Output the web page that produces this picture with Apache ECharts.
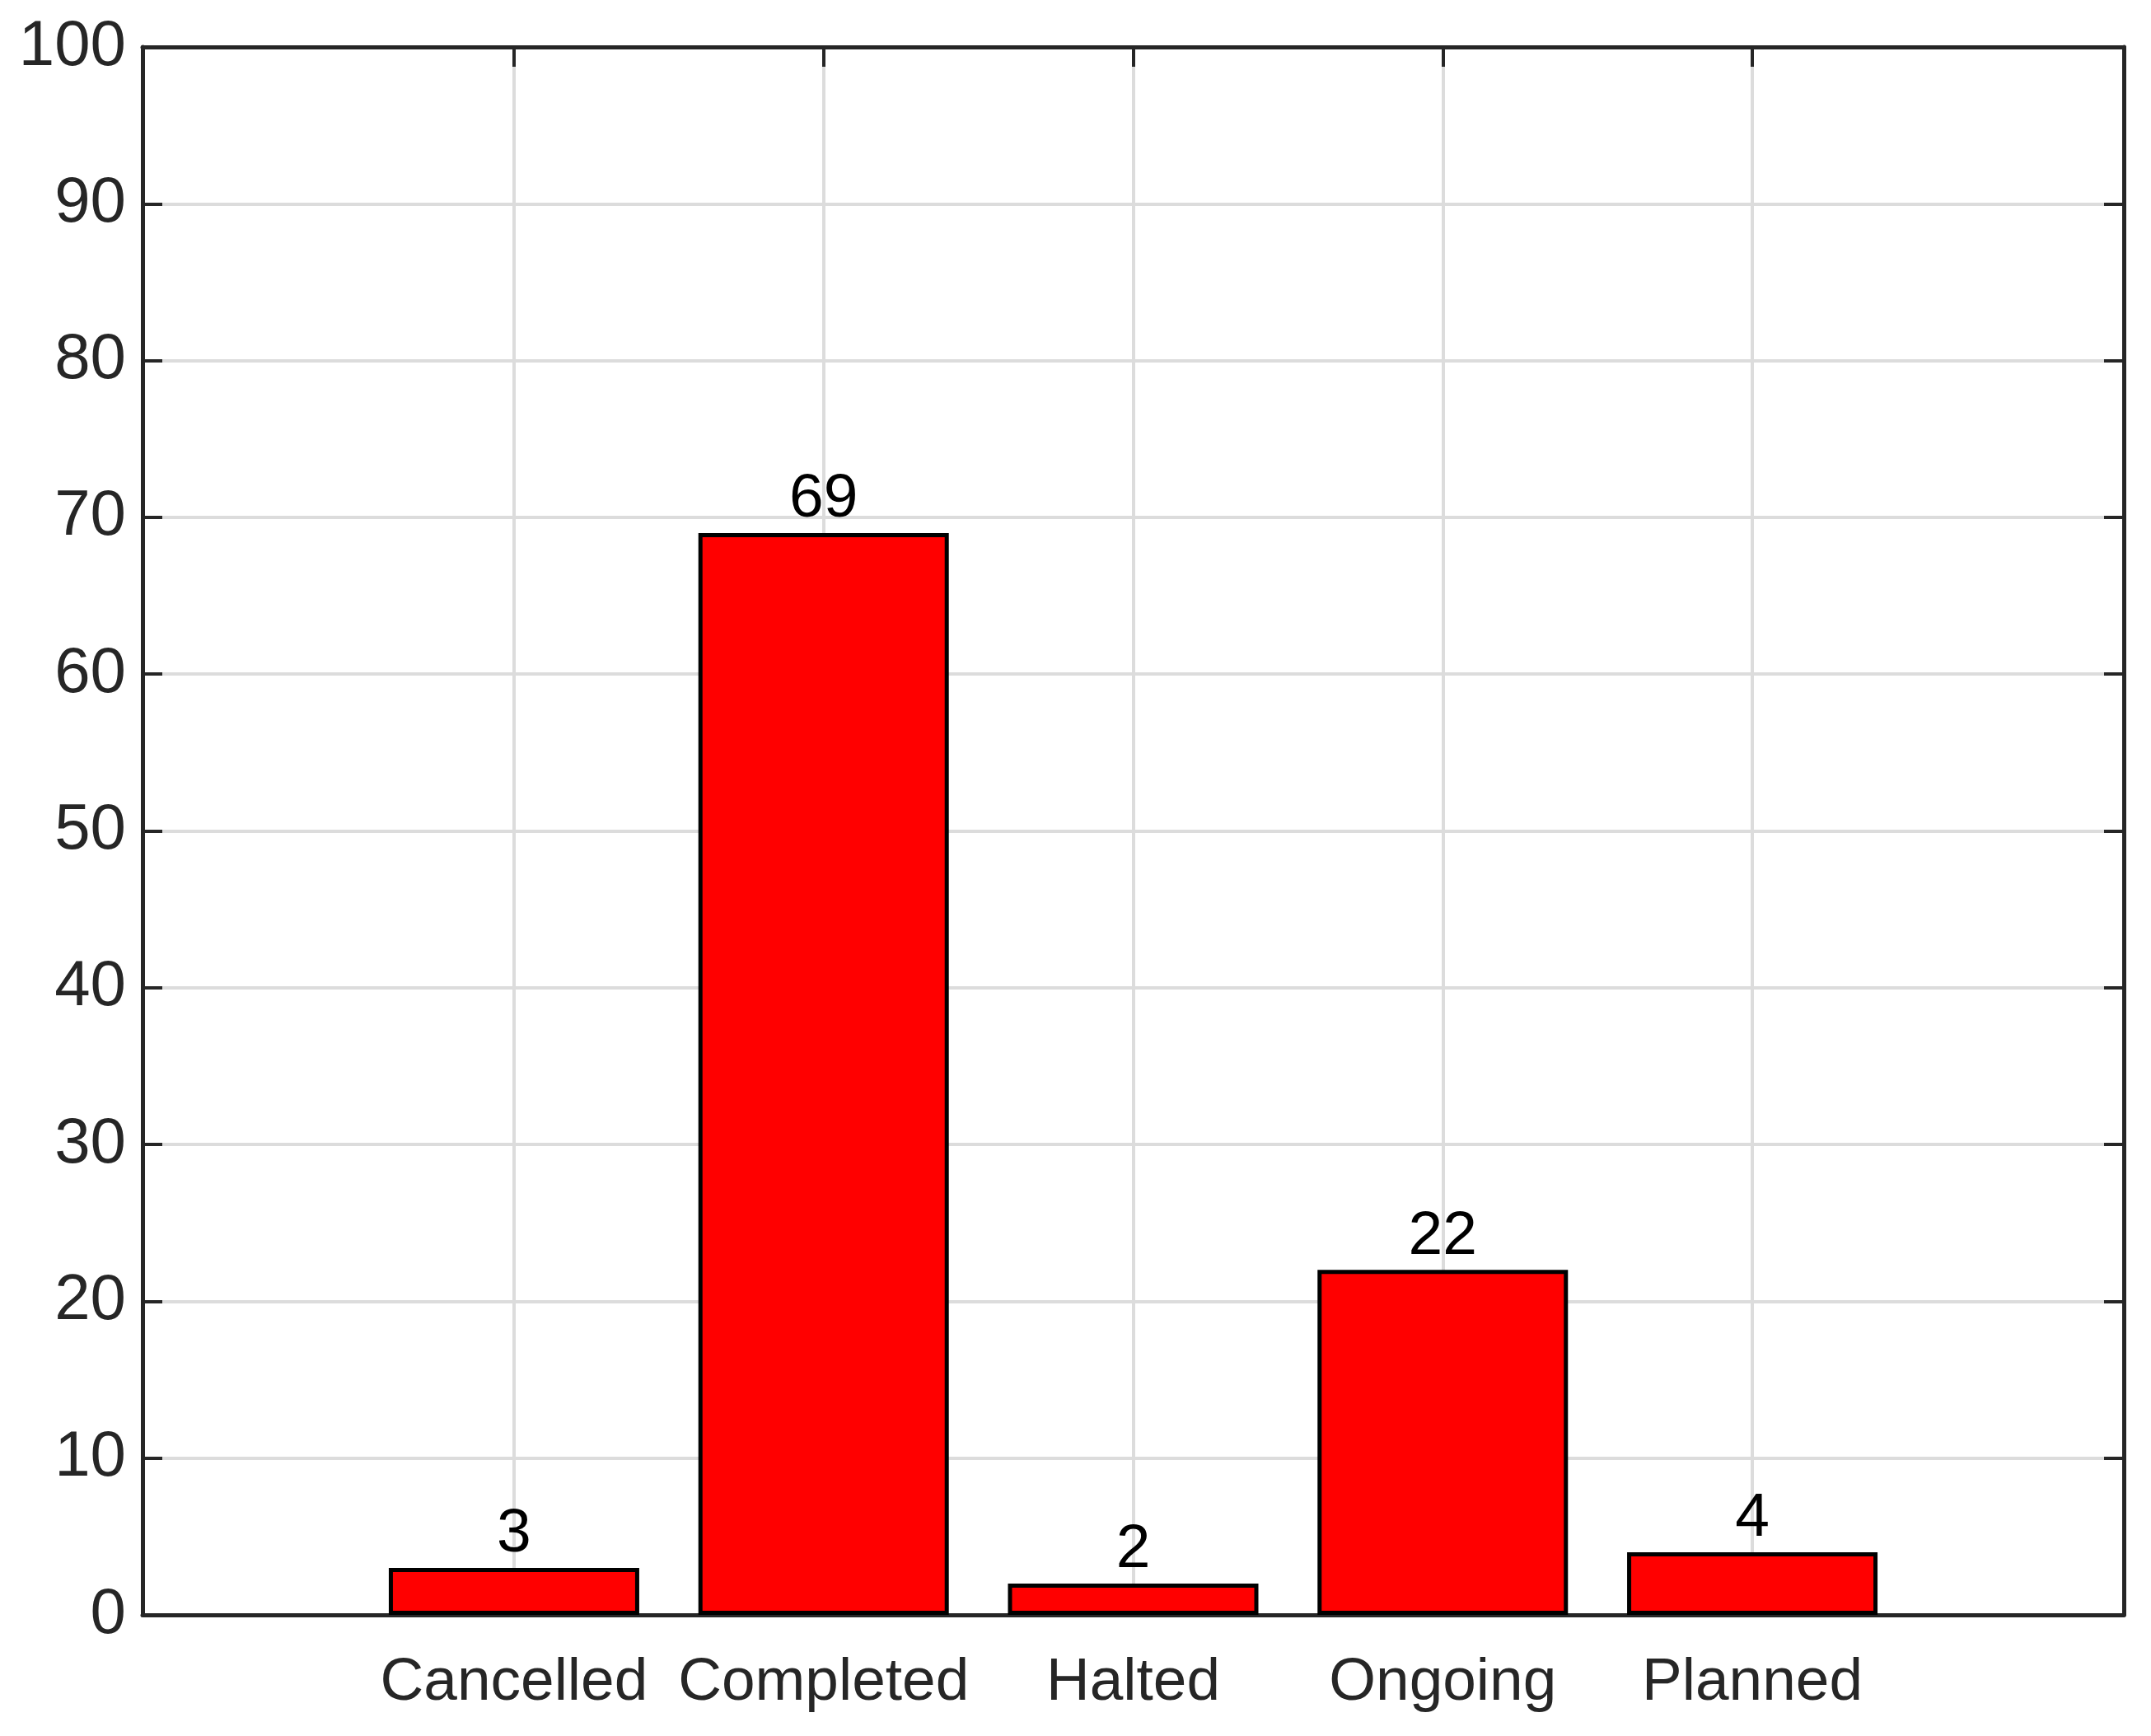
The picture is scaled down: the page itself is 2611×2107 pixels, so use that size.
<!DOCTYPE html>
<html>
<head>
<meta charset="utf-8">
<script src="https://cdn.jsdelivr.net/npm/echarts@6/dist/echarts.min.js"></script>
<style>
  html, body { margin: 0; padding: 0; background: #fff; }
  #main { width: 2611px; height: 2107px; }
</style>
</head>
<body>
<div id="main"></div>
<script>
// categories and counts
const categories = ['Cancelled', 'Completed', 'Halted', 'Ongoing', 'Planned']
const counts = [3, 69, 2, 22, 4]
const yTicks = [0, 10, 20, 30, 40, 50, 60, 70, 80, 90, 100]

// category positions on the x scale (1..n), with MATLAB-like padding
const positions = categories.map((c, i) => i + 1)

const frameColor = '#262626'
const gridColor = '#dcdcdc'
const font = 'Liberation Sans, Arial, Helvetica, sans-serif'

const chartDom = document.getElementById('main')
const myChart = echarts.init(chartDom, null, { renderer: 'canvas' })

const xCommon = {
  type: 'value',
  min: 1 - 1.2,
  max: categories.length + 1.2,
  axisLine: { show: true, onZero: false, lineStyle: { color: frameColor, width: 5 } },
  axisTick: {
    show: true,
    inside: true,
    length: 24,
    customValues: positions,
    lineStyle: { color: frameColor, width: 4 }
  }
}

const yCommon = {
  type: 'value',
  min: 0,
  max: 100,
  interval: 10,
  axisLine: { show: true, onZero: false, lineStyle: { color: frameColor, width: 5 } },
  axisTick: { show: true, inside: true, length: 24, lineStyle: { color: frameColor, width: 4 } }
}

const option = {
  backgroundColor: '#ffffff',
  animation: false,
  grid: { left: 173, right: 33, top: 57, bottom: 147, containLabel: false },
  xAxis: [
    Object.assign({}, xCommon, {
      position: 'bottom',
      axisLabel: {
        show: true,
        customValues: positions,
        margin: 46,
        color: frameColor,
        fontFamily: font,
        fontSize: 73,
        formatter: function (v) {
          return categories[Math.round(v) - 1] || ''
        }
      },
      splitLine: { show: true, lineStyle: { color: gridColor, width: 4 } }
    }),
    Object.assign({}, xCommon, {
      position: 'top',
      axisLabel: { show: false },
      splitLine: { show: false }
    })
  ],
  yAxis: [
    Object.assign({}, yCommon, {
      position: 'left',
      axisLabel: {
        show: true,
        margin: 20,
        color: frameColor,
        fontFamily: font,
        fontSize: 78,
        customValues: yTicks
      },
      splitLine: { show: true, lineStyle: { color: gridColor, width: 4 } }
    }),
    Object.assign({}, yCommon, {
      position: 'right',
      axisLabel: { show: false },
      splitLine: { show: false }
    })
  ],
  series: [
    {
      type: 'bar',
      xAxisIndex: 0,
      yAxisIndex: 0,
      barWidth: 304,
      data: positions.map((p, i) => [p, counts[i]]),
      itemStyle: {
        color: '#ff0000',
        borderColor: '#000000',
        borderWidth: 5
      },
      label: {
        show: true,
        position: 'top',
        distance: 3,
        color: '#000000',
        fontFamily: font,
        fontSize: 75,
        formatter: function (p) { return p.value[1] }
      },
      z: 3
    }
  ]
}

option && myChart.setOption(option)
</script>
</body>
</html>
